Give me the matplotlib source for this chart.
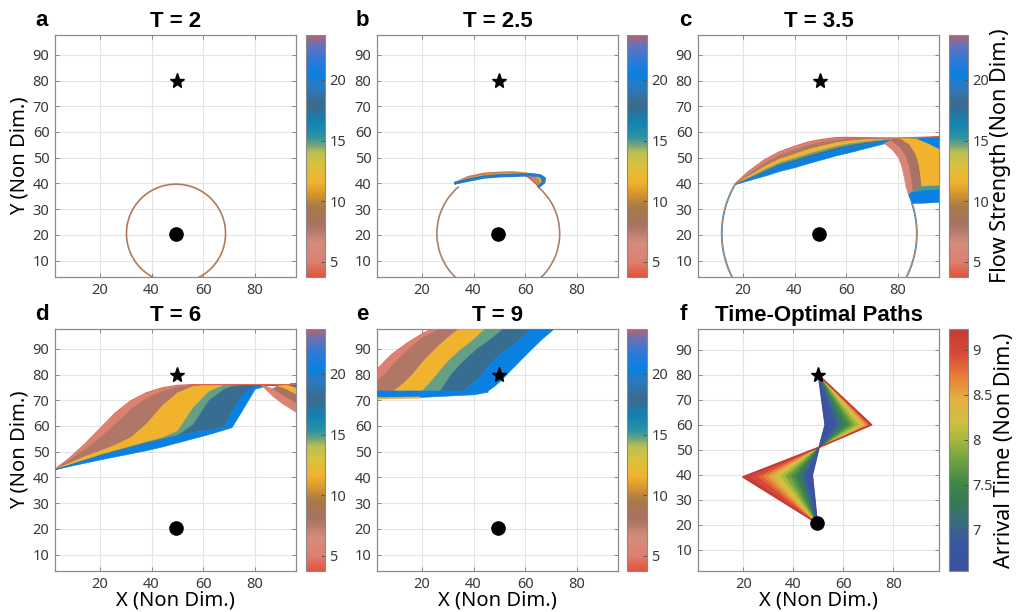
import numpy as np
import matplotlib
matplotlib.use('Agg')
import matplotlib.pyplot as plt
from matplotlib.colors import LinearSegmentedColormap, Normalize
from matplotlib.cm import ScalarMappable
from matplotlib.patches import Circle, Arc

plt.rcParams['font.family'] = ['Noto Sans', 'DejaVu Sans']

# ---- colour scales ----
flow_stops = [3.75, 5.0, 6.5, 8.0, 9.5, 10.5, 11.5, 13.0, 14.0, 14.7, 15.3, 16.5, 18.0, 19.5, 20.5, 22.0, 23.0, 23.7]
flow_colors = ['#e2553c', '#dc8070', '#d48c7c', '#a87262', '#a67a48', '#d2922e', '#f1b22e', '#d9c23e',
               '#b9c050', '#6ea282', '#2a92a2', '#1282b2', '#3c6a8c', '#2a7ac2', '#0a80e2', '#3a78d2',
               '#6e70b2', '#b06272']
flow_ticks = [5, 10, 15, 20]
arrival_stops = [6.54, 6.85, 7.05, 7.3, 7.5, 7.8, 8.0, 8.2, 8.45, 8.7, 8.95, 9.23]
arrival_colors = ['#3b50a0', '#3a56a0', '#386a82', '#377a55', '#3f8745', '#76a540', '#a8b83e',
                  '#d0c040', '#e4b040', '#e6803a', '#d84a36', '#c43a3a']
arrival_ticks = [7, 7.5, 8, 8.5, 9]
arrival_ticklabels = ['7', '7.5', '8', '8.5', '9']

# ---- common geometry ----
start_pt = (49.6, 20.5)
target_pt = (50.0, 80.0)
xticks = [20, 40, 60, 80]
yticks = [10, 20, 30, 40, 50, 60, 70, 80, 90]

# ---- panel a: T = 2 ----
a_center = (49.5, 20.5)
a_radius = 19.2

# ---- panel b: T = 2.5 ----
b_center = (49.6, 20.5)
b_radius = 23.8
b_arc_angles = (130, 49)
b_levels = [4, 7, 10, 12, 15, 18, 21]
b_x = [[32.9, 38, 44, 50, 55, 58.5, 61, 63, 64.5, 65.3],
       [32.9, 38, 44, 50, 55, 59, 62, 64, 65.2, 65.3],
       [32.9, 38, 44, 50, 56, 60, 63, 65, 65.8, 65.3],
       [32.9, 38, 44, 50, 56, 61, 64, 65.8, 66.2, 65.3],
       [32.9, 38, 44, 50, 56, 62, 65, 66.6, 66.7, 65.3],
       [32.9, 38, 44, 50, 56, 62, 65.5, 67.1, 67.1, 65.3],
       [32.9, 38, 44, 50, 56, 62, 66, 67.6, 67.4, 65.3]]
b_y = [[40.1, 42.4, 43.7, 44.1, 44.2, 44.0, 42.8, 41.2, 39.8, 38.8],
       [40.1, 42.2, 43.4, 43.9, 44.0, 43.9, 42.9, 41.2, 39.9, 38.8],
       [40.1, 41.9, 43.1, 43.6, 43.8, 43.8, 43.1, 41.6, 40.1, 38.8],
       [40.1, 41.7, 42.9, 43.4, 43.6, 43.7, 43.2, 41.8, 40.2, 38.8],
       [40.1, 41.5, 42.7, 43.2, 43.4, 43.6, 43.2, 41.9, 40.3, 38.8],
       [40.1, 41.3, 42.5, 43.0, 43.2, 43.4, 43.1, 42.0, 40.4, 38.8],
       [40.1, 41.1, 42.3, 42.8, 43.0, 43.2, 43.0, 42.0, 40.4, 38.8]]

# ---- panel c: T = 3.5 ----
c_center = (49.6, 20.5)
c_radius = 37.8
c_arc_angles = (150, 18.5)
c_x = [16.8, 22, 28.4, 34, 40, 45, 50, 56, 60, 67, 74.8, 80, 88, 96]
c_fronts = [[39.7, 44.5, 49.2, 52.2, 54.4, 56.0, 57.0, 57.8, 57.9, 57.8, 57.7, 57.7, 57.9, 58.2],
            [39.7, 43.8, 48.2, 51.2, 53.3, 55.0, 56.2, 57.2, 57.5, 57.6, 57.6, 57.6, 57.8, 58.1],
            [39.7, 43.0, 46.8, 49.6, 51.6, 53.3, 54.6, 56.0, 56.6, 57.2, 57.4, 57.5, 57.7, 58.0],
            [39.7, 42.3, 45.6, 48.2, 50.0, 51.6, 53.0, 54.6, 55.4, 56.4, 57.1, 57.3, 57.6, 57.9],
            [39.7, 42.0, 45.0, 47.5, 49.2, 50.8, 52.2, 53.8, 54.7, 55.9, 56.8, 57.2, 57.5, 57.8],
            [39.7, 41.7, 44.4, 46.8, 48.5, 50.0, 51.4, 53.0, 54.0, 55.3, 56.4, 56.9, 57.3, 57.6],
            [39.7, 41.2, 43.0, 44.8, 46.3, 47.8, 49.2, 50.9, 51.8, 53.6, 55.6, 56.8, 57.0, 57.3]]
c_band_vals = [5.0, 7.8, 11.5, 14.8, 17.8, 20.5]
c_lobe_vals = [5.5, 8.0, 11.5, 20.5, 15.0, 20.5]
c_lobe_x = [[74.8, 78, 80.3, 81.6, 82.4, 83.2, 84.2, 86, 85.6, 85.1, 84.5, 83.3, 81, 77.5],
            [77.5, 81, 83.3, 84.5, 85.1, 85.6, 86, 89.5, 89.2, 88.9, 88.3, 87, 84.5, 81],
            [81, 84.5, 87, 88.3, 88.9, 89.2, 89.5, 92, 96, 96, 92, 88],
            [88, 92, 96, 96, 90],
            [86, 89.5, 92, 96, 96, 90, 85],
            [84.2, 85, 90, 96, 96, 90, 85.5]]
c_lobe_y = [[55.5, 53, 50, 46.5, 43, 38.8, 35.5, 37.2, 39.5, 43, 46.5, 50.5, 54, 56.8],
            [56.8, 54, 50.5, 46.5, 43, 39.5, 37.2, 38.8, 39.7, 43, 47, 51.5, 55.3, 57.4],
            [57.4, 55.3, 51.5, 47, 43, 39.7, 38.8, 39, 39, 53.5, 55.5, 57.2],
            [57.2, 55.5, 53.5, 58.2, 57.8],
            [37.2, 38.8, 39, 39, 37.5, 37.2, 36.3],
            [35.5, 36.3, 37.2, 37.5, 32.6, 32.3, 32.2]]

# ---- panel d: T = 6 ----
d_x = [2.6, 8, 14, 20, 26, 32, 38, 44, 50, 56, 62, 68, 71, 74, 77, 80, 86, 96]
d_fronts = [[43.2, 47.3, 52.8, 58.9, 65.1, 69.8, 72.9, 74.8, 75.8, 76.1, 76.1, 76.1, 76.1, 76.1, 76.1, 76.1, 76.1, 76.1],
            [43.2, 46.9, 51.0, 55.8, 61.1, 66.8, 71.1, 73.7, 75.3, 76.1, 76.1, 76.1, 76.1, 76.1, 76.1, 76.1, 76.1, 76.1],
            [43.2, 45.7, 48.3, 50.5, 52.8, 55.8, 61.0, 68.0, 73.1, 75.6, 76.1, 76.1, 76.1, 76.1, 76.1, 76.1, 76.1, 76.1],
            [43.2, 45.0, 47.0, 49.0, 50.7, 52.4, 54.0, 55.6, 58.2, 67.3, 73.5, 76.1, 76.1, 76.1, 76.1, 76.1, 76.1, 76.1],
            [43.2, 44.9, 46.8, 48.7, 50.4, 52.0, 53.7, 55.1, 56.5, 60.7, 70.0, 74.5, 75.6, 75.9, 76.1, 76.1, 76.1, 76.1],
            [43.2, 44.8, 46.7, 48.5, 50.1, 51.7, 53.3, 54.8, 56.3, 57.7, 58.5, 59.8, 65.5, 71.0, 74.0, 75.6, 76.1, 76.1],
            [43.2, 44.4, 45.7, 47.0, 48.2, 49.4, 50.6, 52.0, 53.6, 55.2, 56.8, 58.6, 59.5, 64.4, 69.4, 74.5, 76.1, 76.1]]
d_band_vals = [5.0, 7.8, 11.5, 14.8, 17.8, 20.5]
d_tail_vals = [5.5, 8.0, 11.5, 20.5]
d_tail_x = [[82.5, 87, 91, 96, 96, 91, 87],
            [87, 91, 96, 96, 92, 89],
            [89, 92, 96, 96, 93],
            [93, 96, 96, 94]]
d_tail_y = [[76, 71.5, 68.5, 65.3, 69, 72, 74.5],
            [74.5, 72, 69, 72.5, 74.5, 75.6],
            [75.6, 74.5, 72.5, 75, 76],
            [76, 75, 76.6, 76.5]]

# ---- panel e: T = 9 ----
e_y = [73.8, 76, 78, 80, 82, 84, 86, 88, 90, 92, 94, 96, 97.7]
e_fronts = [[2.6, 2.6, 2.6, 2.6, 2.6, 4.6, 6.5, 8.6, 11.3, 14, 17.2, 20.4, 24],
            [2.6, 2.6, 2.6, 5, 6.8, 8.6, 10.5, 12.5, 14.5, 16.9, 19.4, 22.8, 26],
            [9, 11.8, 14, 16, 17.7, 19.3, 21, 23, 25, 27, 29.3, 31.7, 34],
            [20, 22, 23.8, 25.5, 27.1, 28.8, 30.6, 32.8, 35, 37.7, 40.1, 42.2, 44],
            [27, 28.4, 29.7, 31, 32.8, 34.6, 36.6, 38.8, 41, 43.9, 46.6, 49, 51],
            [36, 38.8, 41, 43, 44.6, 46.2, 48.1, 50.3, 52.7, 55.6, 58.1, 60.2, 62],
            [45.5, 48.5, 50.7, 52.6, 54.5, 56.5, 58.4, 60.4, 62.4, 64.5, 66.5, 68.9, 70.8]]
e_band_vals = [5.0, 7.8, 11.5, 14.8, 17.8, 20.5]
e_flat_x = [2.6, 20, 40, 45.5]
e_flat_lo = [70.9, 71.3, 72.3, 73.3]
e_flat_hi = [73.8, 73.8, 73.8, 73.8]
e_strip_x = [2.6, 10, 19]
e_strip_lo = [70.6, 70.8, 71.0]
e_strip_hi = [71.3, 71.4, 71.5]

# ---- panel f: time-optimal paths ----
f_time = [9.22, 9.05, 8.9, 8.75, 8.6, 8.45, 8.3, 8.1, 7.9, 7.7, 7.5, 7.3, 7.1, 6.9, 6.75, 6.6]
f_left_x = [19.8, 23, 26, 28, 30, 31.5, 33, 35, 37, 39, 40.8, 42.3, 43.6, 44.7, 46.3, 47.6]
f_left_y = [39.1, 39.2, 39.2, 39.3, 39.3, 39.4, 39.4, 39.5, 39.5, 39.6, 39.6, 39.7, 39.7, 39.8, 39.8, 39.9]
f_cross = (50.3, 51.0)
f_right_x = [71.3, 70.7, 70.0, 69.5, 69.0, 68.3, 67.3, 66.0, 64.5, 63.0, 61.5, 60.0, 58.5, 57.3, 55.0, 52.7]
f_right_y = 60.0


def make_cmap(name, stops, colors):
    lo, hi = stops[0], stops[-1]
    pos = [(s - lo) / (hi - lo) for s in stops]
    return LinearSegmentedColormap.from_list(name, list(zip(pos, colors))), Normalize(lo, hi)


flow_cmap, flow_norm = make_cmap('flow', flow_stops, flow_colors)
arr_cmap, arr_norm = make_cmap('arrival', arrival_stops, arrival_colors)

fig = plt.figure(figsize=(10.2, 6.12), dpi=100)
W, H = 1020.0, 612.0


def px_axes(l, t, r, b):
    return fig.add_axes([l / W, 1 - b / H, (r - l) / W, (b - t) / H])


def style(ax, xlim=(2.6, 96), ylim=(3.6, 97.7)):
    ax.set_xlim(xlim)
    ax.set_ylim(ylim)
    ax.set_xticks(xticks)
    ax.set_yticks(yticks)
    ax.grid(True, color='#e4e4e4', lw=0.8)
    ax.set_axisbelow(True)
    ax.tick_params(direction='in', length=3, width=0.7, color='#888888', labelsize=10.5,
                   labelcolor='#3a3a3a', top=True, right=True, pad=4)
    for s in ax.spines.values():
        s.set_color('#8a8a8a')
        s.set_linewidth(0.9)


def add_cbar(cax, cmap, norm, ticks, ticklabels=None, label=None):
    cb = fig.colorbar(ScalarMappable(norm=norm, cmap=cmap), cax=cax, ticks=ticks)
    cb.outline.set_edgecolor('#8a8a8a')
    cb.outline.set_linewidth(0.8)
    cb.ax.tick_params(direction='in', length=3, width=0.7, color='#555555', labelsize=10.5,
                      labelcolor='#3a3a3a', pad=3)
    if ticklabels:
        cb.set_ticklabels(ticklabels)
    if label:
        cb.set_label(label, fontsize=15.5, labelpad=1)
    return cb


def markers(ax):
    ax.plot(*target_pt, marker='*', ms=11, color='black', zorder=6)
    ax.plot(*start_pt, marker='o', ms=9.5, color='black', zorder=6)


def flow_col(v):
    return flow_cmap(flow_norm(v))


def title(ax, text, letter, lx, ly):
    ax.set_title(text, fontsize=16, fontweight='bold', family='Liberation Sans', pad=6)
    fig.text(lx / W, 1 - ly / H, letter, fontsize=16, fontweight='bold',
             family='Liberation Sans', ha='center', va='baseline')


cols_px = [(55, 296, 306, 325), (377, 618, 627, 647), (698, 939, 949, 968)]
rows_px = [(35, 277), (329, 571)]
axes = {}
caxes = {}
for r, (t, b) in enumerate(rows_px):
    for c, (l, rr, cl, cr) in enumerate(cols_px):
        key = 'abcdef'[r * 3 + c]
        axes[key] = px_axes(l, t, rr, b)
        caxes[key] = px_axes(cl, t, cr, b)

# a
ax = axes['a']
style(ax)
ax.add_patch(Circle(a_center, a_radius, fill=False, edgecolor='#b07a5a', lw=1.2, zorder=3))
markers(ax)
ax.set_ylabel('Y (Non Dim.)', fontsize=14.5, labelpad=2)
title(ax, 'T = 2', 'a', 42, 26)

# b
ax = axes['b']
style(ax)
ax.add_patch(Arc(b_center, 2 * b_radius, 2 * b_radius, theta1=b_arc_angles[0], theta2=b_arc_angles[1],
                 edgecolor='#a8806a', lw=1.2, zorder=3))
for lev, xs, ys in zip(b_levels, b_x, b_y):
    ax.plot(xs, ys, color=flow_col(lev), lw=1.8, solid_capstyle='round', zorder=4)
markers(ax)
title(ax, 'T = 2.5', 'b', 362, 26)

# c
ax = axes['c']
style(ax)
ax.add_patch(Arc(c_center, 2 * c_radius, 2 * c_radius, theta1=c_arc_angles[0], theta2=c_arc_angles[1],
                 edgecolor='#2a7ac0', lw=1.3, zorder=3))
ax.add_patch(Arc(c_center, 2 * c_radius, 2 * c_radius, theta1=c_arc_angles[0], theta2=c_arc_angles[1],
                 edgecolor='#d89a50', lw=0.6, zorder=3))
for i, v in enumerate(c_band_vals):
    ax.fill_between(c_x, c_fronts[i + 1], c_fronts[i], color=flow_col(v), lw=0.4, zorder=3)
for v, xs, ys in zip(c_lobe_vals, c_lobe_x, c_lobe_y):
    ax.fill(xs, ys, color=flow_col(v), lw=0.4, zorder=3)
ax.plot(c_x, c_fronts[0], color=flow_col(4.0), lw=0.8, zorder=4)
markers(ax)
title(ax, 'T = 3.5', 'c', 685, 26)

# d
ax = axes['d']
style(ax)
for i, v in enumerate(d_band_vals):
    ax.fill_between(d_x, d_fronts[i + 1], d_fronts[i], color=flow_col(v), lw=0.4, zorder=3)
for v, xs, ys in zip(d_tail_vals, d_tail_x, d_tail_y):
    ax.fill(xs, ys, color=flow_col(v), lw=0.4, zorder=3)
ax.plot(d_x, d_fronts[0], color=flow_col(4.2), lw=0.8, zorder=4)
markers(ax)
ax.set_ylabel('Y (Non Dim.)', fontsize=14.5, labelpad=2)
ax.set_xlabel('X (Non Dim.)', fontsize=14.5, labelpad=-1)
title(ax, 'T = 6', 'd', 42, 320)

# e
ax = axes['e']
style(ax)
for i, v in enumerate(e_band_vals):
    ax.fill_betweenx(e_y, e_fronts[i], e_fronts[i + 1], color=flow_col(v), lw=0.4, zorder=3)
ax.fill_between(e_flat_x, e_flat_lo, e_flat_hi, color=flow_col(20.5), lw=0.4, zorder=3)
ax.fill_between(e_strip_x, e_strip_lo, e_strip_hi, color=flow_col(11.5), lw=0.3, zorder=3)
ax.plot(e_fronts[0], e_y, color=flow_col(4.2), lw=0.8, zorder=4)
markers(ax)
ax.set_xlabel('X (Non Dim.)', fontsize=14.5, labelpad=-1)
title(ax, 'T = 9', 'e', 362, 320)

# f
ax = axes['f']
style(ax, xlim=(1.8, 98.3), ylim=(1.4, 98.4))
paths_x = [[start_pt[0], lx, f_cross[0], rx, target_pt[0]] for lx, rx in zip(f_left_x, f_right_x)]
paths_y = [[start_pt[1], ly, f_cross[1], f_right_y, target_pt[1]] for ly in f_left_y]
for i in range(len(f_time) - 1):
    col = arr_cmap(arr_norm(0.5 * (f_time[i] + f_time[i + 1])))
    ax.fill(paths_x[i] + paths_x[i + 1][::-1], paths_y[i] + paths_y[i + 1][::-1],
            color=col, lw=0.5, zorder=3)
ax.plot(paths_x[0], paths_y[0], color=arr_cmap(arr_norm(f_time[0])), lw=1.2, zorder=4)
ax.plot(paths_x[-1], paths_y[-1], color=arr_cmap(arr_norm(f_time[-1])), lw=1.0, zorder=4)
markers(ax)
ax.set_xlabel('X (Non Dim.)', fontsize=14.5, labelpad=-1)
title(ax, 'Time-Optimal Paths', 'f', 683, 320)

# colour bars
for key in 'abcde':
    add_cbar(caxes[key], flow_cmap, flow_norm, flow_ticks,
             label='Flow Strength (Non Dim.)' if key == 'c' else None)
add_cbar(caxes['f'], arr_cmap, arr_norm, arrival_ticks, arrival_ticklabels,
         label='Arrival Time (Non Dim.)')

fig.savefig('out.png', dpi=100)
